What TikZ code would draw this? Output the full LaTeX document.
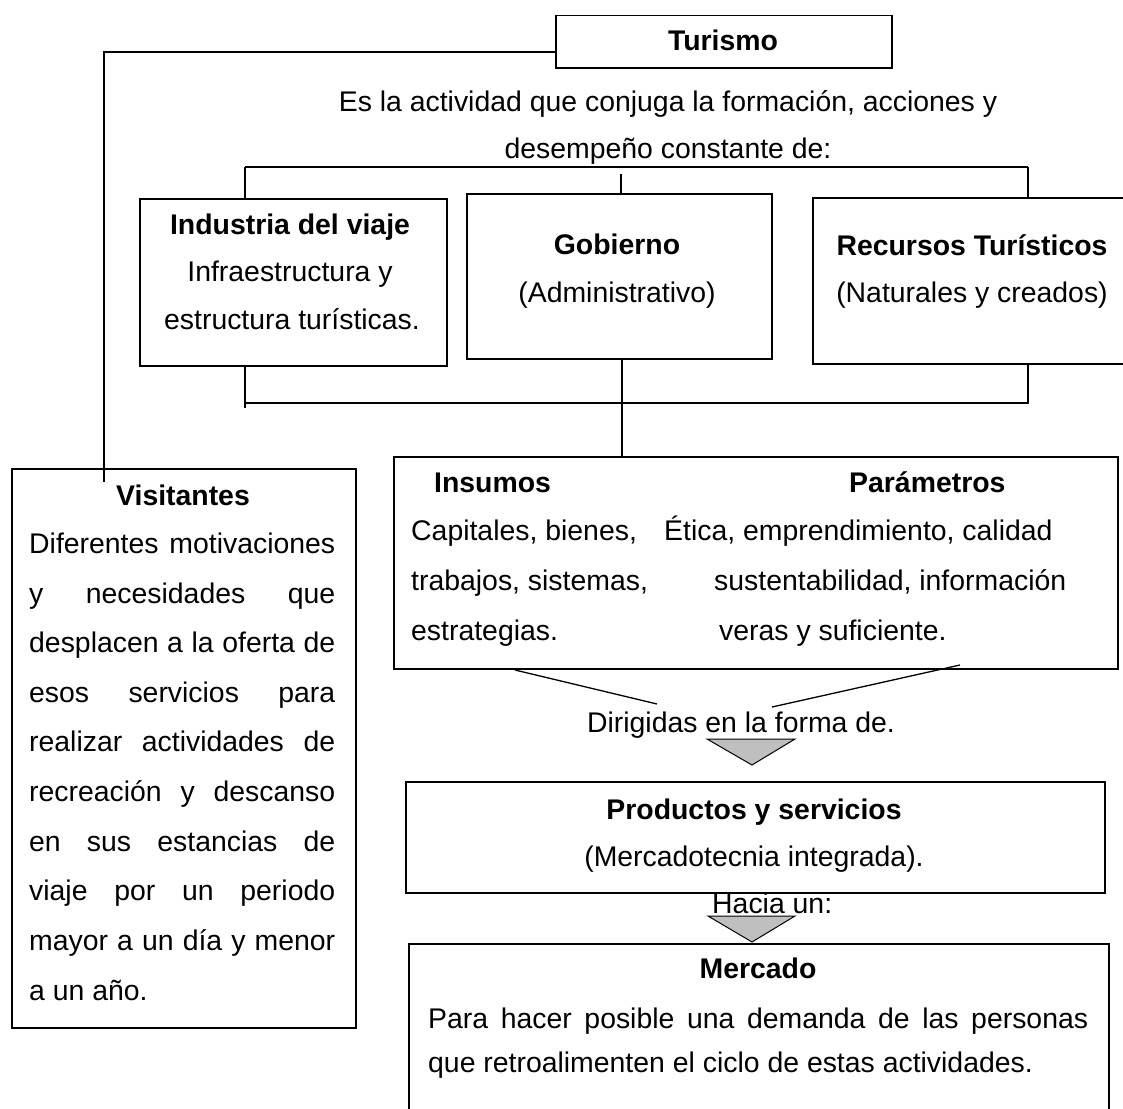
\documentclass[tikz,border=0pt]{standalone}
\usepackage{fontspec}
\setmainfont{Liberation Sans}
\begin{document}
\begin{tikzpicture}[x=1pt,y=-1pt,
  box/.style={draw, line width=1.5pt, inner sep=0pt, anchor=north west},
  lbl/.style={anchor=base, inner sep=0pt, font=\fontsize{28.4}{34}\selectfont},
  lblw/.style={lbl, anchor=base west},
  bl/.style={anchor=base, inner sep=0pt, font=\fontsize{28.4}{34}\selectfont\bfseries},
  link/.style={line width=1.5pt},
  tri/.style={draw, fill=black!25, line width=1pt, line join=miter}]
\path[use as bounding box, clip] (0,0) rectangle (1123,1108);

% boxes
\node[box, minimum width=336pt, minimum height=52pt] (tur) at (555,15) {};
\node[box, minimum width=307pt, minimum height=167pt] (ind) at (139,198) {};
\node[box, minimum width=305pt, minimum height=165pt] (gob) at (466,193) {};
\node[box, minimum width=330pt, minimum height=166pt] (rec) at (812,197) {};
\node[box, minimum width=344pt, minimum height=559pt] (vis) at (11,468) {};
\node[box, minimum width=724pt, minimum height=212pt] (ins) at (393,456) {};
\node[box, minimum width=699pt, minimum height=111pt] (prod) at (405,781) {};
\node[box, minimum width=700pt, minimum height=200pt] (merc) at (408,943) {};

% Turismo
\node[bl] (tTur) at (723,51) {Turismo};
\node[lbl] (tDef1) at (668,111) {Es la actividad que conjuga la formación, acciones y};
\node[lbl] (tDef2) at (668,158) {desempeño constante de:};

% three components
\node[bl] (tInd1) at (290,234) {Industria del viaje};
\node[lbl] (tInd2) at (290,281) {Infraestructura y};
\node[lbl] (tInd3) at (292,329) {estructura turísticas.};
\node[bl] (tGob1) at (617,254) {Gobierno};
\node[lbl] (tGob2) at (617,302) {(Administrativo)};
\node[bl] (tRec1) at (972,255) {Recursos Turísticos};
\node[lbl] (tRec2) at (972,302) {(Naturales y creados)};

% visitors
\node[bl] (tVis) at (183,505) {Visitantes};
\def\vw{\makebox[306pt][s]}
\node[lblw] (v1) at (29,553) {\vw{Diferentes motivaciones}};
\node[lblw] (v2) at (29,603) {\vw{y necesidades que}};
\node[lblw] (v3) at (29,652) {\vw{desplacen a la oferta de}};
\node[lblw] (v4) at (29,702) {\vw{esos servicios para}};
\node[lblw] (v5) at (29,751) {\vw{realizar actividades de}};
\node[lblw] (v6) at (29,801) {\vw{recreación y descanso}};
\node[lblw] (v7) at (29,851) {\vw{en sus estancias de}};
\node[lblw] (v8) at (29,900) {\vw{viaje por un periodo}};
\node[lblw] (v9) at (29,950) {\vw{mayor a un día y menor}};
\node[lblw] (v10) at (29,1000) {a un año.};

% inputs and parameters
\node[bl, anchor=base west] (tIns) at (434,492) {Insumos};
\node[bl, anchor=base west] (tPar) at (849,492) {Parámetros};
\node[lblw] (i1) at (411,540) {Capitales, bienes,};
\node[lblw] (i2) at (411,590) {trabajos, sistemas,};
\node[lblw] (i3) at (411,640) {estrategias.};
\node[lblw] (p1) at (664,540) {Ética, emprendimiento, calidad};
\node[lblw] (p2) at (714,590) {sustentabilidad, información};
\node[lblw] (p3) at (719,640) {veras y suficiente.};

\node[lbl] (tDir) at (741,732) {Dirigidas en la forma de.};

% products
\node[bl] (tProd1) at (754,819) {Productos y servicios};
\node[lbl] (tProd2) at (754,866) {(Mercadotecnia integrada).};
\node[lblw] (tHac) at (712,913) {Hacia un:};

% market
\node[bl] (tMer) at (758,978) {Mercado};
\node[lblw] (m1) at (428,1028) {\makebox[660pt][s]{Para hacer posible una demanda de las personas}};
\node[lblw] (m2) at (428,1072) {que retroalimenten el ciclo de estas actividades.};

% connector points
\coordinate (turL) at (555,52);
\coordinate (visTop) at (104,482);
\coordinate (busTL) at (245,167);
\coordinate (busTR) at (1028,167);
\coordinate (gobTop) at (621,174);
\coordinate (busBL) at (245,403);
\coordinate (busBR) at (1028,403);
\coordinate (indStub) at (245,408);
\coordinate (gobBot) at (622,403);
\coordinate (insL) at (515,670);
\coordinate (dirL) at (657,704);
\coordinate (insR) at (960,665);
\coordinate (dirR) at (772,707);

% connectors
\draw[link] (turL) -- (visTop |- turL) -- (visTop);
\draw[link] (busTL) -- (busTR);
\draw[link] (busTL) -- (busTL |- ind.north);
\draw[link] (busTR) -- (busTR |- rec.north);
\draw[link] (gobTop) -- (gobTop |- gob.north);
\draw[link] (indStub |- ind.south) -- (indStub);
\draw[link] (busBL) -- (busBR) -- (busBR |- rec.south);
\draw[link] (gobBot |- gob.south) -- (gobBot |- ins.north);
\draw[line width=1.3pt] (insL) -- (dirL);
\draw[line width=1.3pt] (insR) -- (dirR);

% arrow triangles
\draw[tri] (707,739) -- (795,739) -- (752,765) -- cycle;
\draw[tri] (708,916) -- (795,916) -- (752,942) -- cycle;
\end{tikzpicture}
\end{document}
